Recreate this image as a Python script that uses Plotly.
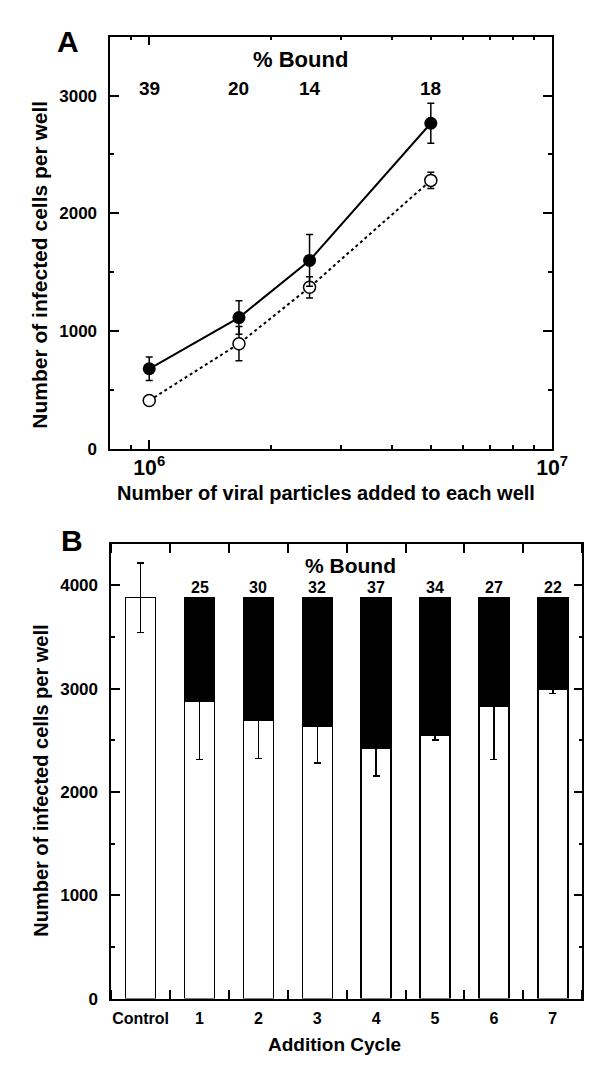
import math
import plotly.graph_objects as go

# ---------------- Panel A data ----------------
particles = [1.0e6, 1.67e6, 2.5e6, 5.0e6]
filled_cells = [680, 1115, 1600, 2765]
filled_err = [100, 142, 220, 170]
open_cells = [410, 893, 1372, 2280]
open_err = [20, 145, 90, 70]
bound_a = ["39", "20", "14", "18"]

# ---------------- Panel B data ----------------
cycles = ["Control", "1", "2", "3", "4", "5", "6", "7"]
unbound = [3880, 2880, 2690, 2635, 2420, 2545, 2830, 2995]
unbound_err_up = [335, 0, 0, 0, 0, 0, 0, 0]
unbound_err_down = [335, 565, 365, 355, 265, 40, 515, 42]
bound = [0, 1000, 1190, 1245, 1460, 1335, 1050, 885]
bound_pct = ["", "25", "30", "32", "37", "34", "27", "22"]

FONT = "Liberation Sans, Arial, Helvetica, sans-serif"
BLACK = "#000000"

fig = go.Figure()

# Panel A traces
fig.add_trace(go.Scatter(
    x=particles, y=open_cells, mode="lines+markers",
    line=dict(color=BLACK, width=2, dash="dot"),
    marker=dict(symbol="circle", size=12, color="white", line=dict(color=BLACK, width=1.5)),
    error_y=dict(type="data", array=open_err, color=BLACK, thickness=1.5, width=3.5),
    xaxis="x", yaxis="y", showlegend=False,
))
fig.add_trace(go.Scatter(
    x=particles, y=filled_cells, mode="lines+markers",
    line=dict(color=BLACK, width=2),
    marker=dict(symbol="circle", size=13, color=BLACK),
    error_y=dict(type="data", array=filled_err, color=BLACK, thickness=1.5, width=3.5),
    xaxis="x", yaxis="y", showlegend=False,
))

# Panel B traces
xb = list(range(len(cycles)))
fig.add_trace(go.Bar(
    x=xb, y=unbound, width=0.51,
    marker=dict(color="white", line=dict(color=BLACK, width=1.5)),
    error_y=dict(type="data", symmetric=False, array=unbound_err_up,
                 arrayminus=unbound_err_down, color=BLACK, thickness=1.5, width=3.5),
    xaxis="x2", yaxis="y2", showlegend=False,
))
fig.add_trace(go.Bar(
    x=xb, y=bound, width=0.51,
    marker=dict(color=BLACK, line=dict(color=BLACK, width=1.5)),
    xaxis="x2", yaxis="y2", showlegend=False,
))

tickfont = dict(family=FONT, size=17, color=BLACK, weight="bold")

fig.update_layout(
    width=600, height=1066,
    margin=dict(l=0, r=0, t=0, b=0),
    paper_bgcolor="white", plot_bgcolor="white",
    barmode="stack",
    font=dict(family=FONT, color=BLACK),
    xaxis=dict(
        type="log", domain=[105/600, 559/600], anchor="y",
        range=[math.log10(8e5), 7],
        tickmode="linear", tick0=0, dtick=1,
        exponentformat="power", showexponent="all",
        ticks="inside", ticklen=9, tickwidth=1.5, tickcolor=BLACK,
        minor=dict(ticks="inside", ticklen=4, tickwidth=1.5, tickcolor=BLACK, dtick="D1", showgrid=False),
        showline=True, linewidth=1.5, linecolor=BLACK, mirror="ticks",
        showgrid=False, zeroline=False, tickfont=dict(family=FONT, size=17, color=BLACK, weight="bold"),
        ticklabelstandoff=0,
    ),
    yaxis=dict(
        domain=[1-445/1066, 1-29/1066], anchor="x",
        range=[0, 3500], tickvals=[0, 1000, 2000, 3000],
        ticks="inside", ticklen=9, tickwidth=1.5, tickcolor=BLACK,
        minor=dict(ticks="inside", ticklen=4, tickwidth=1.5, tickcolor=BLACK, dtick=500, showgrid=False),
        showline=True, linewidth=1.5, linecolor=BLACK, mirror="ticks",
        showgrid=False, zeroline=False, tickfont=tickfont, ticklabelstandoff=8,
    ),
    xaxis2=dict(
        domain=[106/600, 590/600], anchor="y2",
        range=[-0.5, 7.5], tickvals=xb, ticktext=cycles,
        ticks="",
        minor=dict(ticks="inside", ticklen=9, tickwidth=1.5, tickcolor=BLACK, tick0=0.5, dtick=1, showgrid=False),
        showline=True, linewidth=1.5, linecolor=BLACK, mirror="ticks",
        showgrid=False, zeroline=False, tickfont=dict(family=FONT, size=16, color=BLACK, weight="bold"),
        ticklabelstandoff=4,
    ),
    yaxis2=dict(
        domain=[1-1000/1066, 1-541/1066], anchor="x2",
        range=[0, 4400], tickvals=[0, 1000, 2000, 3000, 4000],
        ticks="inside", ticklen=9, tickwidth=1.5, tickcolor=BLACK,
        minor=dict(ticks="inside", ticklen=4, tickwidth=1.5, tickcolor=BLACK, dtick=500, showgrid=False),
        showline=True, linewidth=1.5, linecolor=BLACK, mirror="ticks",
        showgrid=False, zeroline=False, tickfont=tickfont, ticklabelstandoff=8,
    ),
)

C = dict(xanchor="center", yanchor="middle", showarrow=False)
ann = []
# Panel letters
ann.append(dict(text="A", x=62/600, y=1-34/1066, xref="paper", yref="paper",
                font=dict(family=FONT, size=30, weight="bold"), **C))
ann.append(dict(text="B", x=66/600, y=1-538/1066, xref="paper", yref="paper",
                font=dict(family=FONT, size=30, weight="bold"), **C))
# Axis titles
ann.append(dict(text="Number of infected cells per well", x=32/600, y=1-259/1066,
                xref="paper", yref="paper", textangle=-90,
                font=dict(family=FONT, size=21, weight="bold"), **C))
ann.append(dict(text="Number of viral particles added to each well", x=327/600, y=1-490/1066,
                xref="paper", yref="paper",
                font=dict(family=FONT, size=20, weight="bold"), **C))
ann.append(dict(text="Number of infected cells per well", x=34/600, y=1-780/1066,
                xref="paper", yref="paper", textangle=-90,
                font=dict(family=FONT, size=20, weight="bold"), **C))
ann.append(dict(text="Addition Cycle", x=335/600, y=1-1046/1066,
                xref="paper", yref="paper",
                font=dict(family=FONT, size=19, weight="bold"), **C))
# % Bound headers
ann.append(dict(text="% Bound", x=(300-105)/454, y=(445-52)/416, xref="x domain", yref="y domain",
                font=dict(family=FONT, size=22, weight="bold"), **C))
ann.append(dict(text="% Bound", x=(352-106)/484, y=(1000-563)/459, xref="x2 domain", yref="y2 domain",
                font=dict(family=FONT, size=21, weight="bold"), **C))
# Panel A % bound values
for xv, lab in zip(particles, bound_a):
    ann.append(dict(text=lab, x=math.log10(xv), y=3060, xref="x", yref="y",
                    font=dict(family=FONT, size=19, weight="bold"), **C))
# Panel B % bound values
for xv, u, b, lab in zip(xb, unbound, bound, bound_pct):
    if lab:
        ann.append(dict(text=lab, x=xv, y=u + b, xref="x2", yref="y2", yanchor="bottom",
                        xanchor="center", showarrow=False,
                        font=dict(family=FONT, size=16, weight="bold")))
fig.update_layout(annotations=ann)

fig.write_html("out.html")
